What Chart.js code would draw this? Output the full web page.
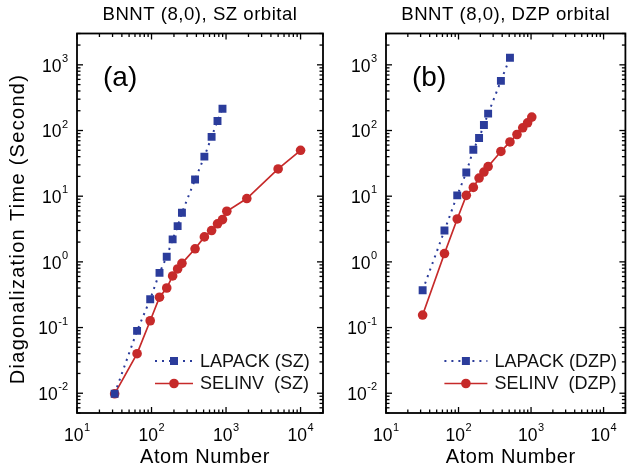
<!DOCTYPE html>
<html>
<head>
<meta charset="utf-8">
<script src="https://cdn.jsdelivr.net/npm/chart.js@4.4.0/dist/chart.umd.min.js"></script>
<style>
  html, body { margin: 0; padding: 0; background: #fff; overflow: hidden; }
  #wrap { position: relative; width: 631px; height: 470px; }
  canvas { position: absolute; top: 0; }
</style>
</head>
<body>
<div id="wrap">
  <canvas id="grafA" width="330" height="470" style="left:0"></canvas>
  <canvas id="grafB" width="301" height="470" style="left:330px"></canvas>
</div>
<script>
// ===== Datos =====
const atomsLapackSZ = [32, 64, 96, 128, 160, 192, 224, 256, 384, 512, 640, 768, 896];
const timeLapackSZ  = [0.0098, 0.089, 0.27, 0.68, 1.2, 2.2, 3.5, 5.6, 18, 40, 80, 140, 215];
const atomsSelinvSZ = [32, 64, 96, 128, 160, 192, 224, 256, 384, 512, 640, 768, 896, 1024, 1900, 5000, 10000];
const timeSelinvSZ  = [0.0098, 0.040, 0.127, 0.29, 0.40, 0.61, 0.78, 0.95, 1.58, 2.4, 3.0, 3.8, 4.4, 5.9, 9.2, 26, 50];

const atomsLapackDZP = [32, 64, 96, 128, 160, 192, 224, 256, 384, 512];
const timeLapackDZP  = [0.37, 3.0, 10.3, 23, 51, 77, 121, 181, 570, 1280];
const atomsSelinvDZP = [32, 64, 96, 128, 160, 192, 224, 256, 384, 512, 640, 768, 896, 1024];
const timeSelinvDZP  = [0.155, 1.34, 4.5, 10.3, 13.6, 18.9, 23.3, 28.3, 48, 67, 87, 110, 131, 160];

const xTickExps = [1, 2, 3, 4];
const yTickExps = [-2, -1, 0, 1, 2, 3];
const xRange = [10, 20000];
const yRange = [0.005, 3000];

const BLUE = '#2b3c9b';
const RED = '#c62a2a';
const FONT = "'Liberation Sans', Arial, sans-serif";

// ===== Utilidades =====
function pares(xs, ys) {
  return xs.map((x, i) => ({ x, y: ys[i] }));
}

function linea(ctx, x1, y1, x2, y2) {
  ctx.beginPath();
  ctx.moveTo(x1, y1);
  ctx.lineTo(x2, y2);
  ctx.stroke();
}

// "10" + exponente pequeño
function potencia(ctx, exp, x, y, align) {
  const base = '10';
  const sup = exp < 0 ? '-' + Math.abs(exp) : String(exp);
  ctx.font = `17.5px ${FONT}`;
  const wb = ctx.measureText(base).width;
  ctx.font = `11px ${FONT}`;
  const ws = ctx.measureText(sup).width;
  const total = wb + ws + 0.5;
  let x0 = align === 'right' ? x - total : x - total / 2;
  ctx.textAlign = 'left';
  ctx.textBaseline = 'middle';
  ctx.font = `17.5px ${FONT}`;
  ctx.fillText(base, x0, y);
  ctx.font = `11px ${FONT}`;
  ctx.fillText(sup, x0 + wb + 0.5, y - 8);
}

// ===== Plugin: marco, ticks, textos y leyenda =====
const marcoPlugin = {
  id: 'marco',
  afterDraw(chart, args, opts) {
    const { ctx, chartArea: a, scales: { x, y } } = chart;
    ctx.save();
    ctx.strokeStyle = '#000';
    ctx.fillStyle = '#000';

    // ticks hacia adentro en los 4 lados
    ctx.lineWidth = 1.3;
    for (let e = 0; e <= 4; e++) {
      for (let m = 1; m <= 9; m++) {
        const v = m * Math.pow(10, e);
        if (v < x.min || v > x.max) continue;
        const px = x.getPixelForValue(v);
        const len = m === 1 ? 6 : 3.5;
        linea(ctx, px, a.bottom, px, a.bottom - len);
        linea(ctx, px, a.top, px, a.top + len);
      }
    }
    for (let e = -3; e <= 3; e++) {
      for (let m = 1; m <= 9; m++) {
        const v = m * Math.pow(10, e);
        if (v < y.min || v > y.max) continue;
        const py = y.getPixelForValue(v);
        const len = m === 1 ? 6 : 3.5;
        linea(ctx, a.left, py, a.left + len, py);
        linea(ctx, a.right, py, a.right - len, py);
      }
    }
    ctx.lineWidth = 1.8;
    ctx.strokeRect(a.left, a.top, a.right - a.left, a.bottom - a.top);

    // etiquetas de ticks
    xTickExps.forEach(e => potencia(ctx, e, x.getPixelForValue(Math.pow(10, e)), 436, 'center'));
    yTickExps.forEach(e => potencia(ctx, e, a.left - 9, y.getPixelForValue(Math.pow(10, e)) + 2, 'right'));

    // títulos
    ctx.textAlign = 'center';
    ctx.textBaseline = 'middle';
    ctx.font = `18.6px ${FONT}`;
    ctx.letterSpacing = '0.5px';
    ctx.fillText(opts.titulo, (a.left + a.right) / 2, 15);
    ctx.font = `20px ${FONT}`;
    ctx.letterSpacing = '0.6px';
    ctx.fillText('Atom Number', (a.left + a.right) / 2 + 5, 457);
    if (opts.ejeY) {
      ctx.save();
      ctx.translate(18, 229);
      ctx.rotate(-Math.PI / 2);
      ctx.letterSpacing = '1.3px';
      ctx.fillText('Diagonalization Time (Second)', 0, 0);
      ctx.restore();
    }
    ctx.letterSpacing = '0px';

    // (a) / (b)
    ctx.textAlign = 'left';
    ctx.font = `28px ${FONT}`;
    ctx.fillText(opts.panel, a.left + 26, 78);

    // leyenda
    const lx = a.right - opts.leyendaDx;
    const filas = [
      { txt: opts.leyenda[0], color: BLUE, dash: [2, 5], w: 2, forma: 'rect' },
      { txt: opts.leyenda[1], color: RED, dash: [], w: 1.7, forma: 'circle' }
    ];
    filas.forEach((f, i) => {
      const ly = 361 + i * 22.5;
      ctx.strokeStyle = f.color;
      ctx.fillStyle = f.color;
      ctx.lineWidth = f.w;
      ctx.setLineDash(f.dash);
      linea(ctx, lx, ly, lx + opts.muestra, ly);
      ctx.setLineDash([]);
      const mx = lx + opts.muestra / 2;
      if (f.forma === 'rect') {
        ctx.fillRect(mx - 4, ly - 4, 8, 8);
      } else {
        ctx.beginPath();
        ctx.arc(mx, ly, 4.8, 0, Math.PI * 2);
        ctx.fill();
      }
      ctx.fillStyle = '#111';
      ctx.font = `18px ${FONT}`;
      ctx.textBaseline = 'middle';
      ctx.fillText(f.txt, lx + opts.muestra + 7, ly + 1);
    });
    ctx.restore();
  }
};

function crearGrafico(id, datos, padding, opcionesMarco) {
  return new Chart(document.getElementById(id), {
    type: 'line',
    data: {
      datasets: [
        {
          label: opcionesMarco.leyenda[0],
          data: datos[0],
          borderColor: BLUE,
          backgroundColor: BLUE,
          borderWidth: 2,
          borderDash: [2, 5],
          pointStyle: 'rect',
          pointRadius: 5.6,
          pointBorderWidth: 0,
          tension: 0
        },
        {
          label: opcionesMarco.leyenda[1],
          data: datos[1],
          borderColor: RED,
          backgroundColor: RED,
          borderWidth: 1.7,
          pointStyle: 'circle',
          pointRadius: 4.8,
          pointBorderWidth: 0,
          tension: 0
        }
      ]
    },
    options: {
      responsive: false,
      animation: false,
      events: [],
      layout: { padding },
      scales: {
        x: { type: 'logarithmic', min: xRange[0], max: xRange[1], display: false },
        y: { type: 'logarithmic', min: yRange[0], max: yRange[1], display: false }
      },
      plugins: {
        legend: { display: false },
        tooltip: { enabled: false },
        marco: opcionesMarco
      }
    },
    plugins: [marcoPlugin]
  });
}

crearGrafico('grafA',
  [pares(atomsLapackSZ, timeLapackSZ), pares(atomsSelinvSZ, timeSelinvSZ)],
  { left: 77, right: 7, top: 33.5, bottom: 57 },
  { titulo: 'BNNT (8,0), SZ orbital', panel: '(a)', ejeY: true,
    leyenda: ['LAPACK (SZ)', 'SELINV  (SZ)'], leyendaDx: 168, muestra: 38 });

crearGrafico('grafB',
  [pares(atomsLapackDZP, timeLapackDZP), pares(atomsSelinvDZP, timeSelinvDZP)],
  { left: 56, right: 1, top: 33.5, bottom: 57 },
  { titulo: 'BNNT (8,0), DZP orbital', panel: '(b)', ejeY: false,
    leyenda: ['LAPACK (DZP)', 'SELINV  (DZP)'], leyendaDx: 181, muestra: 43 });
</script>
</body>
</html>
